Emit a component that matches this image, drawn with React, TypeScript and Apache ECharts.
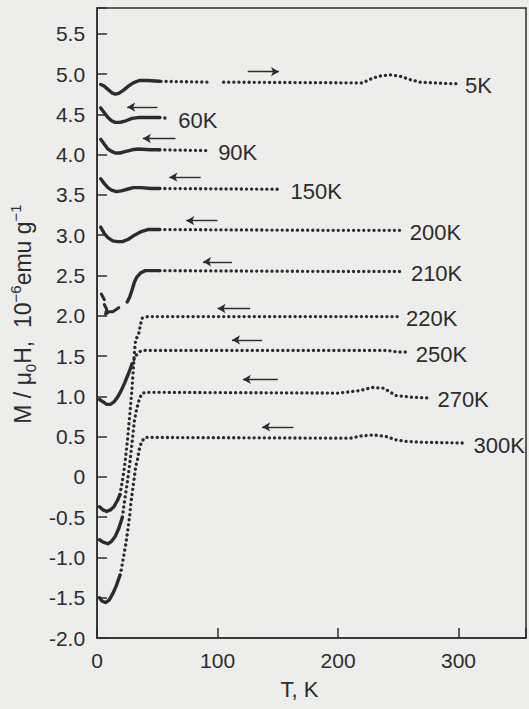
import React, { useEffect, useRef } from 'react';
import * as echarts from 'echarts';

type P = [number, number];

// Axis ticks / labels
const xTicks = [0, 100, 200, 300];
const yTickStep = 0.5;
const xLabelName = 'T, K';

// Curve names (annealing temperatures)
const curveNames = ['5K', '60K', '90K', '150K', '200K', '210K', '220K', '250K', '270K', '300K'];

// Solid (low temperature) parts: [T, M/mu0H]
const solid5: P[] = [[3, 4.87], [6, 4.85], [9, 4.81], [12, 4.77], [15, 4.75], [18, 4.76], [22, 4.8], [26, 4.85], [30, 4.89], [35, 4.92], [42, 4.92], [52, 4.91]];
const solid60: P[] = [[3, 4.58], [6, 4.52], [9, 4.46], [12, 4.42], [15, 4.4], [19, 4.4], [24, 4.42], [29, 4.45], [34, 4.46], [44, 4.46], [52, 4.46]];
const solid90: P[] = [[3, 4.19], [6, 4.13], [9, 4.07], [12, 4.04], [15, 4.02], [19, 4.02], [24, 4.04], [29, 4.06], [34, 4.07], [44, 4.06], [52, 4.06]];
const solid150: P[] = [[3, 3.7], [6, 3.64], [9, 3.59], [12, 3.56], [16, 3.54], [20, 3.55], [25, 3.57], [30, 3.59], [36, 3.59], [45, 3.58], [52, 3.58]];
const solid200: P[] = [[3, 3.1], [6, 3.02], [9, 2.97], [13, 2.93], [17, 2.92], [21, 2.92], [26, 2.95], [31, 3.0], [36, 3.04], [42, 3.07], [52, 3.07]];
const solid210: P[] = [[25, 2.17], [27, 2.23], [29, 2.32], [31, 2.42], [33, 2.48], [36, 2.53], [40, 2.56], [46, 2.56], [52, 2.56]];
const bits210a: P[] = [[3.5, 2.27], [6, 2.2]];
const bits210b: P[] = [[6, 2.14], [8, 2.08], [7, 2.02], [10, 2.05], [13, 2.05], [18, 2.1]];
const solid220: P[] = [[2, -0.37], [5, -0.41], [8, -0.43], [11, -0.41], [14, -0.37], [17, -0.29], [19, -0.22]];
const solid250: P[] = [[2, 0.96], [5, 0.93], [8, 0.9], [11, 0.9], [14, 0.93], [17, 0.99], [20, 1.07], [23, 1.17], [26, 1.28], [29, 1.4]];
const solid270: P[] = [[2, -0.78], [5, -0.81], [9, -0.83], [12, -0.8], [15, -0.74], [18, -0.64], [21, -0.5]];
const solid300: P[] = [[2, -1.5], [4, -1.54], [7, -1.56], [10, -1.53], [13, -1.45], [16, -1.35], [19, -1.22]];

// Dotted (measured up to the end temperature) parts
const dots5a: P[] = [[53, 4.91], [92, 4.9]];
const dots5b: P[] = [[105, 4.9], [220, 4.89], [229, 4.95], [236, 4.98], [244, 4.99], [252, 4.97], [260, 4.93], [268, 4.9], [280, 4.89], [298, 4.88]];
const dots60: P[] = [[52, 4.46], [60, 4.45]];
const dots90: P[] = [[52, 4.06], [93, 4.05]];
const dots150: P[] = [[52, 3.58], [153, 3.57]];
const dots200: P[] = [[52, 3.07], [200, 3.06], [252, 3.06]];
const dots210: P[] = [[52, 2.56], [200, 2.55], [253, 2.55]];
const dots220: P[] = [[19, -0.22], [21, -0.05], [23, 0.15], [25, 0.42], [27, 0.75], [29, 1.1], [31, 1.55], [32, 1.7], [34.5, 1.77], [36, 1.89], [37.5, 1.97], [42, 1.99], [150, 1.99], [249, 1.99]];
const dots250: P[] = [[29, 1.4], [31, 1.47], [33, 1.52], [36, 1.56], [40, 1.57], [150, 1.57], [240, 1.57], [250, 1.55], [257, 1.55]];
const dots270: P[] = [[21, -0.5], [23, -0.28], [25, -0.08], [27, 0.15], [29, 0.42], [31, 0.7], [33, 0.85], [35, 0.96], [37, 1.03], [40, 1.05], [200, 1.04], [218, 1.07], [228, 1.11], [238, 1.1], [248, 1.01], [260, 0.99], [275, 0.98]];
const dots300: P[] = [[19, -1.22], [20, -1.16], [22, -0.99], [24, -0.82], [25.5, -0.66], [27, -0.49], [28, -0.33], [29.5, -0.16], [31, 0], [32, 0.13], [33.5, 0.21], [35, 0.34], [37, 0.44], [40, 0.49], [210, 0.48], [220, 0.51], [230, 0.52], [240, 0.5], [248, 0.46], [256, 0.44], [270, 0.43], [305, 0.42]];

// Arrows (one per curve): level, from T, to T, pointing right?
const arrowM = [5.03, 4.59, 4.2, 3.72, 3.18, 2.67, 2.09, 1.7, 1.21, 0.62];
const arrowFrom = [125, 25, 38, 60, 74, 88, 100, 112, 121, 137];
const arrowTo = [151, 50, 65, 86, 100, 112, 127, 137, 150, 163];
const arrowRight = [true, false, false, false, false, false, false, false, false, false];

const solids = [solid5, solid60, solid90, solid150, solid200, solid210, solid220, solid250, solid270, solid300];
const dotsList = [[dots5a, dots5b], [dots60], [dots90], [dots150], [dots200], [dots210], [dots220], [dots250], [dots270], [dots300]];

const INK = '#2c2c2c';
const FONT = '"Liberation Sans", Arial, sans-serif';

export default function App() {
  const ref = useRef<HTMLDivElement>(null);
  useEffect(() => {
    if (!ref.current) return;
    const chart = echarts.init(ref.current, undefined, { renderer: 'svg' });
    const series: any[] = [];
    curveNames.forEach((name, i) => {
      series.push({
        type: 'line',
        data: solids[i],
        showSymbol: false,
        silent: true,
        z: 3,
        lineStyle: { color: INK, width: 3.4, cap: 'round', join: 'round' },
        markLine: {
          silent: true,
          animation: false,
          label: { show: false },
          lineStyle: { type: 'solid', color: INK, width: 1.4 },
          symbolSize: [7, 8],
          emphasis: { disabled: true },
          data: [[
            { coord: [arrowFrom[i], arrowM[i]], symbol: arrowRight[i] ? 'none' : 'arrow' },
            { coord: [arrowTo[i], arrowM[i]], symbol: arrowRight[i] ? 'arrow' : 'none' },
          ]],
        },
      });
      const segs = dotsList[i];
      segs.forEach((seg, j) => {
        const last = j === segs.length - 1;
        series.push({
          type: 'line',
          data: seg,
          showSymbol: false,
          silent: true,
          z: 3,
          lineStyle: { color: INK, width: 3.3, type: [0.1, 5], cap: 'round' },
          endLabel: last
            ? { show: true, formatter: name, color: INK, fontSize: 22, fontFamily: FONT, distance: 9, offset: [0, 2] }
            : { show: false },
        });
      });
    });
    [bits210a, bits210b].forEach((b) =>
      series.push({
        type: 'line',
        data: b,
        showSymbol: false,
        silent: true,
        lineStyle: { color: INK, width: 3, cap: 'round', join: 'round' },
      })
    );

    chart.setOption({
      animation: false,
      backgroundColor: '#ededeb',
      textStyle: { fontFamily: FONT },
      grid: { left: 92, right: -1, top: 8, bottom: 71, show: true, borderColor: INK, borderWidth: 1.5 },
      xAxis: {
        type: 'value',
        min: 0,
        max: 356,
        interval: 100,
        name: xLabelName,
        nameLocation: 'middle',
        nameGap: 40,
        nameTextStyle: { color: INK, fontSize: 22, fontFamily: FONT, padding: [0, 24, 0, 0] },
        axisLine: { show: true, onZero: false, lineStyle: { color: INK, width: 1.5 } },
        axisTick: { show: true, inside: true, length: 10, lineStyle: { color: INK, width: 1.5 } },
        splitLine: { show: false },
        axisLabel: {
          color: INK,
          fontSize: 21,
          fontFamily: FONT,
          margin: 12,
          formatter: (v: number) => (xTicks.includes(v) ? String(v) : ''),
        },
      },
      yAxis: {
        type: 'value',
        min: -2,
        max: 5.82,
        interval: yTickStep,
        name: '{t|M / μ}{s|0}{t|H,  10}{p|−6}{t|emu g}{p|−1}',
        nameLocation: 'middle',
        nameGap: 54,
        nameTextStyle: {
          color: INK,
          fontFamily: FONT,
          padding: [0, 0, 0, 18],
          rich: {
            t: { fontSize: 23, lineHeight: 30, color: INK, fontFamily: FONT, verticalAlign: 'middle' },
            s: { fontSize: 15, lineHeight: 15, color: INK, fontFamily: FONT, verticalAlign: 'bottom' },
            p: { fontSize: 15, lineHeight: 15, color: INK, fontFamily: FONT, verticalAlign: 'top' },
          },
        },
        axisLine: { show: true, onZero: false, lineStyle: { color: INK, width: 1.5 } },
        axisTick: { show: true, inside: true, length: 10, lineStyle: { color: INK, width: 1.5 } },
        splitLine: { show: false },
        axisLabel: {
          color: INK,
          fontSize: 21,
          fontFamily: FONT,
          margin: 12,
          formatter: (v: number) => {
            const k = v / yTickStep;
            if (Math.abs(k - Math.round(k)) > 1e-6 || v > 5.6) return '';
            return Math.abs(v) < 1e-9 ? '0' : v.toFixed(1);
          },
        },
      },
      series,
    });
    return () => chart.dispose();
  }, []);
  return <div ref={ref} style={{ position: 'fixed', left: 0, top: 0, width: 529, height: 709 }} />;
}
